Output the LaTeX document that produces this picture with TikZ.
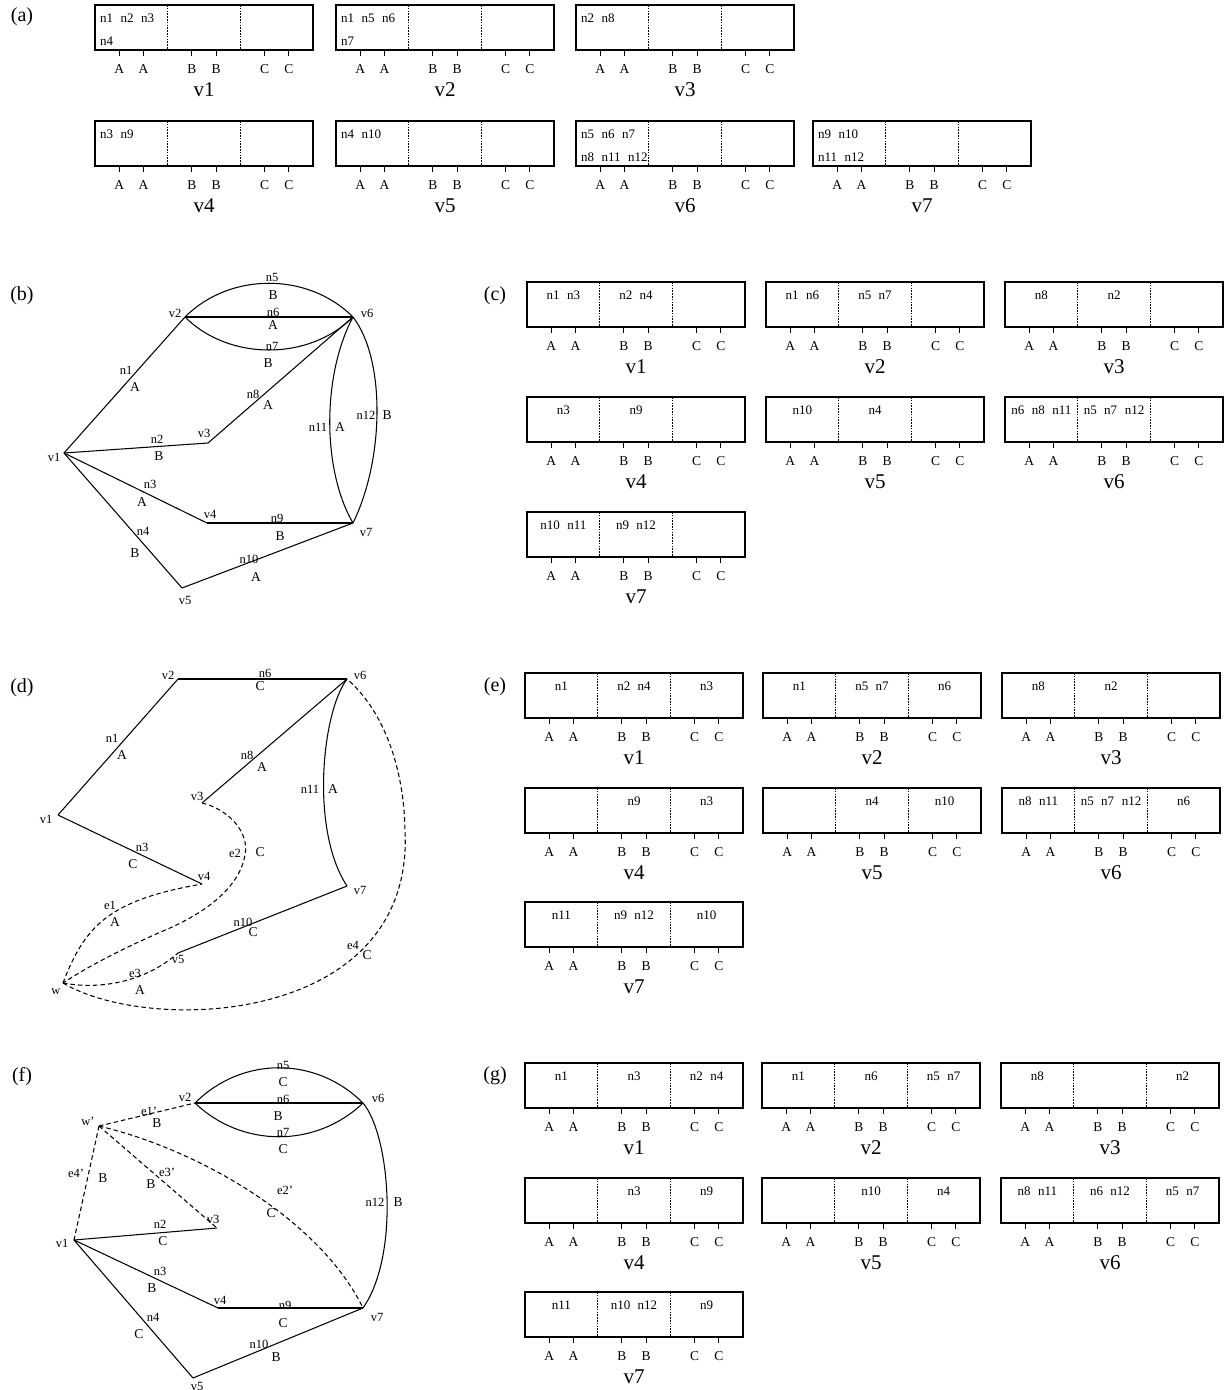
\documentclass[tikz,border=0pt]{standalone}
\usepackage{fontspec}
\setmainfont{Liberation Serif}
\usetikzlibrary{calc}
\tikzset{
 edge/.style={line width=1.05pt},
 dedge/.style={line width=1.05pt, dash pattern=on 4.5pt off 3pt},
 elab/.style={font=\fontsize{12.5}{12.5}\selectfont, inner sep=0pt},
 llab/.style={font=\fontsize{13.5}{13.5}\selectfont, inner sep=0pt},
 vlab/.style={font=\fontsize{12.5}{12.5}\selectfont, inner sep=0pt},
 plab/.style={font=\fontsize{20}{20}\selectfont, inner sep=0pt},
 regrect/.style={draw, line width=1.3pt, minimum width=218pt, minimum height=45pt, inner sep=0pt, outer sep=0pt},
 divline/.style={line width=0.9pt, dash pattern=on 1.6pt off 1.2pt},
 tickline/.style={line width=0.9pt},
 cell/.style={font={\fontsize{13}{13}\selectfont\spaceskip=7.5pt\relax}, inner sep=0pt},
 letter/.style={font=\fontsize{13.5}{13.5}\selectfont, inner sep=0pt},
 boxlabel/.style={font=\fontsize{21}{21}\selectfont, inner sep=0pt},
}
\newcommand\boxbase[4]{%
 \node[regrect, anchor=north west] (#1) at (#2,#3) {};
 \draw[divline] ($(#1.north west)!1/3!(#1.north east)$) -- ($(#1.south west)!1/3!(#1.south east)$);
 \draw[divline] ($(#1.north west)!2/3!(#1.north east)$) -- ($(#1.south west)!2/3!(#1.south east)$);
 \foreach \f/\L in {1/A,2/A,4/B,5/B,7/C,8/C}{%
   \draw[tickline] ($(#1.south west)!\f/9!(#1.south east)$) -- ++(0,6);
   \node[letter] (#1t\f) at ($(#1.south west)!\f/9!(#1.south east)+(0,19.5)$) {\L};
 }
 \node[boxlabel] (#1lab) at ($(#1.south)+(0,40)$) {#4};
}
\newcommand\abox[6]{\boxbase{#1}{#2}{#3}{#4}
 \node[cell, anchor=west] (#1r1) at ($(#1.north west)+(5,13)$) {#5};
 \node[cell, anchor=west] (#1r2) at ($(#1.north west)+(5,36)$) {#6};}
\newcommand\cbox[7]{\boxbase{#1}{#2}{#3}{#4}
 \node[cell] (#1s1) at ($(#1.north west)!1/6!(#1.north east)+(0,13)$) {#5};
 \node[cell] (#1s2) at ($(#1.north west)!1/2!(#1.north east)+(0,13)$) {#6};
 \node[cell] (#1s3) at ($(#1.north west)!5/6!(#1.north east)+(0,13)$) {#7};}
\begin{document}
\begin{tikzpicture}[x=1pt,y=-1pt]
\useasboundingbox (0,0) rectangle (1227,1390);
% panel labels
\node[plab] (pa) at (22,17) {(a)};
\node[plab] (pb) at (22,296) {(b)};
\node[plab] (pc) at (495,296) {(c)};
\node[plab] (pd) at (22,688) {(d)};
\node[plab] (pe) at (495,687) {(e)};
\node[plab] (pf) at (22,1077) {(f)};
\node[plab] (pg) at (495,1076) {(g)};
% (a)
\abox{a1}{95}{5}{v1}{n1 n2 n3}{n4}
\abox{a2}{336}{5}{v2}{n1 n5 n6}{n7}
\abox{a3}{576}{5}{v3}{n2 n8}{}
\abox{a4}{95}{121}{v4}{n3 n9}{}
\abox{a5}{336}{121}{v5}{n4 n10}{}
\abox{a6}{576}{121}{v6}{n5 n6 n7}{n8 n11 n12}
\abox{a7}{813}{121}{v7}{n9 n10}{n11 n12}
% (c)
\cbox{c1}{527}{282}{v1}{n1 n3}{n2 n4}{}
\cbox{c2}{766}{282}{v2}{n1 n6}{n5 n7}{}
\cbox{c3}{1005}{282}{v3}{n8}{n2}{}
\cbox{c4}{527}{397}{v4}{n3}{n9}{}
\cbox{c5}{766}{397}{v5}{n10}{n4}{}
\cbox{c6}{1005}{397}{v6}{n6 n8 n11}{n5 n7 n12}{}
\cbox{c7}{527}{512}{v7}{n10 n11}{n9 n12}{}
% (e)
\cbox{e1}{525}{673}{v1}{n1}{n2 n4}{n3}
\cbox{e2}{763}{673}{v2}{n1}{n5 n7}{n6}
\cbox{e3}{1002}{673}{v3}{n8}{n2}{}
\cbox{e4}{525}{788}{v4}{}{n9}{n3}
\cbox{e5}{763}{788}{v5}{}{n4}{n10}
\cbox{e6}{1002}{788}{v6}{n8 n11}{n5 n7 n12}{n6}
\cbox{e7}{525}{902}{v7}{n11}{n9 n12}{n10}
% (g)
\cbox{g1}{525}{1063}{v1}{n1}{n3}{n2 n4}
\cbox{g2}{762}{1063}{v2}{n1}{n6}{n5 n7}
\cbox{g3}{1001}{1063}{v3}{n8}{}{n2}
\cbox{g4}{525}{1178}{v4}{}{n3}{n9}
\cbox{g5}{762}{1178}{v5}{}{n10}{n4}
\cbox{g6}{1001}{1178}{v6}{n8 n11}{n6 n12}{n5 n7}
\cbox{g7}{525}{1292}{v7}{n11}{n10 n12}{n9}
% (b) graph
\coordinate (b1) at (64,453);
\coordinate (b2) at (185,317);
\coordinate (b3) at (208,443);
\coordinate (b4) at (207,523);
\coordinate (b5) at (182,588);
\coordinate (b6) at (353,317);
\coordinate (b7) at (353,523);
\draw[edge] (b1) -- (b2);
\draw[edge] (b2) -- (b6);
\draw[edge] (b2) .. controls (230,272) and (308,272) .. (b6);
\draw[edge] (b2) .. controls (229,361) and (309,361) .. (b6);
\draw[edge] (b1) -- (b3);
\draw[edge] (b3) -- (b6);
\draw[edge] (b1) -- (b4);
\draw[edge] (b4) -- (b7);
\draw[edge] (b1) -- (b5);
\draw[edge] (b5) -- (b7);
\draw[edge] (b6) .. controls (322,375) and (322,470) .. (b7);
\draw[edge] (b6) .. controls (386,360) and (384,460) .. (b7);
\node[vlab] (b1l) at (54,457) {v1};
\node[vlab] (b2l) at (175,313) {v2};
\node[vlab] (b3l) at (204,433) {v3};
\node[vlab] (b4l) at (210,514) {v4};
\node[vlab] (b5l) at (185,600) {v5};
\node[vlab] (b6l) at (367,313) {v6};
\node[vlab] (b7l) at (366,532) {v7};
\node[elab] (bn5) at (272,277) {n5};   \node[llab] (bn5c) at (273,295) {B};
\node[elab] (bn6) at (273,312) {n6};   \node[llab] (bn6c) at (273,325) {A};
\node[elab] (bn7) at (272,346) {n7};   \node[llab] (bn7c) at (268,363) {B};
\node[elab] (bn1) at (126,370) {n1};   \node[llab] (bn1c) at (135,387) {A};
\node[elab] (bn8) at (253,394) {n8};   \node[llab] (bn8c) at (268,405) {A};
\node[elab] (bn2) at (157,439) {n2};   \node[llab] (bn2c) at (159,456) {B};
\node[elab] (bn11) at (318,427) {n11}; \node[llab] (bn11c) at (340,427) {A};
\node[elab] (bn12) at (366,415) {n12}; \node[llab] (bn12c) at (387,415) {B};
\node[elab] (bn3) at (150,484) {n3};   \node[llab] (bn3c) at (142,502) {A};
\node[elab] (bn9) at (277,518) {n9};   \node[llab] (bn9c) at (280,536) {B};
\node[elab] (bn4) at (143,531) {n4};   \node[llab] (bn4c) at (135,553) {B};
\node[elab] (bn10) at (249,559) {n10}; \node[llab] (bn10c) at (256,577) {A};
% (d) graph
\coordinate (d1) at (58,815);
\coordinate (d2) at (178,679);
\coordinate (d3) at (202,803);
\coordinate (d4) at (202,884);
\coordinate (d5) at (178,953);
\coordinate (d6) at (347,679);
\coordinate (d7) at (347,886);
\coordinate (dw) at (63,983);
\draw[edge] (d1) -- (d2);
\draw[edge] (d2) -- (d6);
\draw[edge] (d3) -- (d6);
\draw[edge] (d1) -- (d4);
\draw[edge] (d5) -- (d7);
\draw[edge] (d6) .. controls (322,712) and (310,830) .. (d7);
\draw[dedge] (dw) .. controls (85,925) and (110,900) .. (d4);
\draw[dedge] (d3) .. controls (225,808) and (250,830) .. (245,855) .. controls (240,885) and (210,910) .. (170,928) .. controls (130,945) and (90,965) .. (dw);
\draw[dedge] (dw) .. controls (100,990) and (145,982) .. (d5);
\draw[dedge] (dw) .. controls (150,1035) and (415,1025) .. (405,830) .. controls (404,770) and (385,712) .. (d6);
\node[vlab] (d1l) at (46,819) {v1};
\node[vlab] (d2l) at (168,675) {v2};
\node[vlab] (d3l) at (197,796) {v3};
\node[vlab] (d4l) at (204,876) {v4};
\node[vlab] (d5l) at (178,959) {v5};
\node[vlab] (d6l) at (360,675) {v6};
\node[vlab] (d7l) at (360,890) {v7};
\node[vlab] (dwl) at (56,992) {w};
\node[elab] (dn6) at (265,673) {n6};   \node[llab] (dn6c) at (260,686) {C};
\node[elab] (dn1) at (112,738) {n1};   \node[llab] (dn1c) at (122,755) {A};
\node[elab] (dn8) at (247,755) {n8};   \node[llab] (dn8c) at (262,767) {A};
\node[elab] (dn11) at (310,789) {n11}; \node[llab] (dn11c) at (333,789) {A};
\node[elab] (dn3) at (142,847) {n3};   \node[llab] (dn3c) at (133,864) {C};
\node[elab] (de2) at (235,853) {e2};   \node[llab] (de2c) at (260,852) {C};
\node[elab] (de1) at (110,905) {e1};   \node[llab] (de1c) at (115,922) {A};
\node[elab] (dn10) at (243,922) {n10}; \node[llab] (dn10c) at (253,932) {C};
\node[elab] (de4) at (353,945) {e4};   \node[llab] (de4c) at (367,955) {C};
\node[elab] (de3) at (135,973) {e3};   \node[llab] (de3c) at (140,990) {A};
% (f) graph
\coordinate (f1) at (74,1240);
\coordinate (f2) at (195,1103);
\coordinate (f3) at (217,1228);
\coordinate (f4) at (218,1308);
\coordinate (f5) at (193,1378);
\coordinate (f6) at (363,1103);
\coordinate (f7) at (363,1308);
\coordinate (fw) at (99,1126);
\draw[edge] (f2) -- (f6);
\draw[edge] (f2) .. controls (242,1056) and (316,1056) .. (f6);
\draw[edge] (f2) .. controls (242,1148) and (316,1148) .. (f6);
\draw[edge] (f6) .. controls (390,1135) and (400,1255) .. (f7);
\draw[edge] (f1) -- (f3);
\draw[edge] (f1) -- (f4);
\draw[edge] (f4) -- (f7);
\draw[edge] (f1) -- (f5);
\draw[edge] (f5) -- (f7);
\draw[dedge] (fw) -- (f2);
\draw[dedge] (fw) -- (f1);
\draw[dedge] (fw) -- (f3);
\draw[dedge] (fw) .. controls (200,1150) and (320,1220) .. (f7);
\node[vlab] (f1l) at (62,1243) {v1};
\node[vlab] (f2l) at (185,1097) {v2};
\node[vlab] (f3l) at (213,1219) {v3};
\node[vlab] (f4l) at (220,1300) {v4};
\node[vlab] (f5l) at (197,1386) {v5};
\node[vlab] (f6l) at (378,1098) {v6};
\node[vlab] (f7l) at (377,1317) {v7};
\node[vlab] (fwl) at (88,1121) {w'};
\node[elab] (fn5) at (283,1065) {n5};   \node[llab] (fn5c) at (283,1082) {C};
\node[elab] (fn6) at (283,1099) {n6};   \node[llab] (fn6c) at (278,1116) {B};
\node[elab] (fn7) at (283,1132) {n7};   \node[llab] (fn7c) at (283,1149) {C};
\node[elab] (fe1) at (149,1111) {e1'};  \node[llab] (fe1c) at (157,1123) {B};
\node[elab] (fe4) at (76,1173) {e4'};   \node[llab] (fe4c) at (103,1178) {B};
\node[elab] (fe3) at (167,1172) {e3'};  \node[llab] (fe3c) at (151,1184) {B};
\node[elab] (fe2) at (285,1190) {e2'};  \node[llab] (fe2c) at (271,1213) {C};
\node[elab] (fn12) at (375,1202) {n12}; \node[llab] (fn12c) at (398,1202) {B};
\node[elab] (fn2) at (160,1224) {n2};   \node[llab] (fn2c) at (163,1241) {C};
\node[elab] (fn3) at (160,1271) {n3};   \node[llab] (fn3c) at (152,1288) {B};
\node[elab] (fn9) at (285,1305) {n9};   \node[llab] (fn9c) at (283,1323) {C};
\node[elab] (fn4) at (153,1317) {n4};   \node[llab] (fn4c) at (139,1334) {C};
\node[elab] (fn10) at (259,1344) {n10}; \node[llab] (fn10c) at (276,1357) {B};
\end{tikzpicture}
\end{document}
